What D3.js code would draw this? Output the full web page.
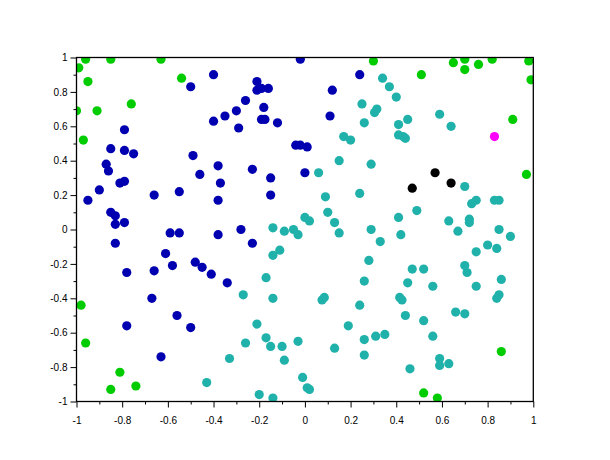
<!DOCTYPE html>
<html><head><meta charset="utf-8">
<script src="https://cdn.jsdelivr.net/npm/d3@7"></script>
<style>body{margin:0;background:#fff}svg{display:block}</style>
</head><body><svg id="c" width="610" height="460"></svg>
<script>
const greenPts = [[-0.99,0.94],[-0.96,0.99],[-0.85,0.99],[-0.63,0.99],[-0.95,0.86],[-0.54,0.88],[-0.76,0.73],[-1.0,0.69],[-0.91,0.69],[-0.97,0.52],[0.30,0.98],[0.51,0.90],[0.65,0.97],[0.70,0.99],[0.70,0.93],[0.76,0.96],[0.82,0.99],[0.98,0.98],[0.99,0.87],[0.91,0.64],[0.97,0.32],[-0.98,-0.44],[-0.96,-0.66],[-0.81,-0.83],[-0.85,-0.93],[-0.74,-0.91],[0.86,-0.71],[0.52,-0.95],[0.58,-0.98]];
const magentaPts = [[0.83,0.54]];
const blackPts = [[0.47,0.24],[0.57,0.33],[0.64,0.27]];
const bluePts = [[-0.50,0.83],[-0.79,0.58],[-0.85,0.47],[-0.79,0.46],[-0.75,0.44],[-0.87,0.38],[-0.86,0.34],[-0.81,0.27],[-0.79,0.28],[-0.90,0.23],[-0.95,0.17],[-0.66,0.20],[-0.55,0.22],[-0.85,0.10],[-0.83,0.08],[-0.83,0.03],[-0.79,0.04],[-0.59,-0.02],[-0.55,-0.02],[-0.83,-0.08],[-0.61,-0.14],[-0.58,-0.21],[-0.78,-0.25],[-0.66,-0.24],[-0.67,-0.40],[-0.56,-0.50],[-0.78,-0.56],[-0.50,-0.57],[-0.63,-0.74],[-0.02,0.99],[-0.40,0.90],[-0.21,0.86],[-0.21,0.81],[-0.19,0.82],[-0.16,0.82],[-0.26,0.75],[-0.30,0.69],[-0.35,0.66],[-0.40,0.63],[-0.18,0.71],[-0.29,0.59],[-0.19,0.64],[-0.175,0.64],[-0.12,0.62],[-0.49,0.43],[-0.38,0.37],[-0.23,0.35],[-0.04,0.49],[-0.02,0.49],[0.01,0.48],[0.0,0.33],[0.24,0.90],[0.12,0.81],[0.11,0.66],[-0.46,0.32],[-0.15,0.30],[-0.37,0.27],[-0.15,0.20],[-0.38,0.17],[-0.28,0.0],[-0.38,-0.03],[-0.23,-0.08],[-0.48,-0.19],[-0.45,-0.22],[-0.41,-0.26],[-0.34,-0.31]];
const tealPts = [[-0.14,0.01],[-0.09,-0.01],[-0.05,0.0],[-0.03,-0.03],[0.0,0.07],[0.02,0.05],[-0.11,-0.12],[-0.14,-0.15],[-0.17,-0.28],[0.06,0.33],[0.29,0.38],[0.24,0.21],[0.09,0.19],[0.10,0.10],[0.13,0.04],[0.15,-0.02],[0.41,0.07],[0.49,0.11],[0.29,0.0],[0.42,-0.03],[0.33,-0.07],[0.28,-0.18],[0.47,-0.23],[0.52,-0.23],[0.26,-0.30],[0.45,-0.31],[0.70,0.25],[0.73,0.15],[0.75,0.17],[0.83,0.17],[0.85,0.17],[0.63,0.05],[0.72,0.06],[0.72,0.04],[0.67,-0.01],[0.85,0.0],[0.90,-0.04],[0.80,-0.09],[0.84,-0.11],[0.75,-0.13],[0.70,-0.21],[0.71,-0.25],[0.86,-0.29],[0.56,-0.33],[0.75,-0.33],[0.84,-0.40],[0.85,-0.38],[0.66,-0.48],[0.70,-0.49],[0.52,-0.53],[0.56,-0.62],[0.59,-0.75],[0.63,-0.78],[0.59,-0.79],[0.075,-0.41],[0.085,-0.395],[0.24,-0.44],[0.415,-0.395],[0.425,-0.41],[0.44,-0.50],[0.19,-0.56],[0.26,-0.64],[0.31,-0.62],[0.35,-0.61],[0.13,-0.69],[0.26,-0.73],[0.46,-0.81],[-0.01,-0.86],[0.01,-0.92],[0.02,-0.93],[-0.27,-0.38],[-0.14,-0.40],[-0.21,-0.55],[-0.17,-0.63],[-0.26,-0.66],[-0.15,-0.68],[-0.10,-0.68],[-0.03,-0.65],[-0.33,-0.75],[-0.09,-0.76],[-0.43,-0.89],[-0.20,-0.96],[-0.14,-0.98],[0.34,0.88],[0.37,0.83],[0.40,0.77],[0.25,0.73],[0.305,0.68],[0.315,0.70],[0.26,0.62],[0.41,0.61],[0.45,0.64],[0.41,0.55],[0.43,0.54],[0.44,0.53],[0.17,0.54],[0.20,0.52],[0.15,0.40],[0.59,0.67],[0.64,0.60]];
const majorTicks = [-1,-0.8,-0.6,-0.4,-0.2,0,0.2,0.4,0.6,0.8,1];
const tickLabels = ["-1","-0.8","-0.6","-0.4","-0.2","0","0.2","0.4","0.6","0.8","1"];
const minorTicks = [-0.9,-0.7,-0.5,-0.3,-0.1,0.1,0.3,0.5,0.7,0.9];

const L=76.5,R=533.3,T=57.5,B=401.5;
const svg=d3.select("#c");
const x=d3.scaleLinear().domain([-1,1]).range([L,R]);
const y=d3.scaleLinear().domain([-1,1]).range([B,T]);

svg.append("defs").append("clipPath").attr("id","clip")
  .append("rect").attr("x",L).attr("y",T).attr("width",R-L).attr("height",B-T);

const series=[
  {pts:tealPts,color:"#20b2aa"},
  {pts:bluePts,color:"#0000b0"},
  {pts:greenPts,color:"#00cc00"},
  {pts:blackPts,color:"#000000"},
  {pts:magentaPts,color:"#ff00ff"}
];
const plot=svg.append("g").attr("clip-path","url(#clip)");
series.forEach(s=>{
  plot.selectAll(null).data(s.pts).enter().append("circle")
    .attr("cx",d=>x(d[0])).attr("cy",d=>y(d[1])).attr("r",4.6).attr("fill",s.color);
});

const fmt=d=>tickLabels[majorTicks.indexOf(d)];
const font='Helvetica, "Liberation Sans", Arial, sans-serif';
const xa=svg.append("g").attr("transform",`translate(0,${B})`)
  .call(d3.axisBottom(x).tickValues(majorTicks).tickFormat(fmt).tickSize(6).tickPadding(9));
const xm=svg.append("g").attr("transform",`translate(0,${B})`)
  .call(d3.axisBottom(x).tickValues(minorTicks).tickFormat("").tickSize(3));
const ya=svg.append("g").attr("transform",`translate(${L},0)`)
  .call(d3.axisLeft(y).tickValues(majorTicks).tickFormat(fmt).tickSize(6).tickPadding(3));
const ym=svg.append("g").attr("transform",`translate(${L},0)`)
  .call(d3.axisLeft(y).tickValues(minorTicks).tickFormat("").tickSize(3));
[xa,xm,ya,ym].forEach(g=>{
  g.select(".domain").remove();
  g.selectAll("line").attr("stroke","#000");
  g.selectAll("text").attr("font-family",font).attr("font-size",10).attr("fill","#000");
});
svg.append("rect").attr("x",L).attr("y",T).attr("width",R-L).attr("height",B-T)
  .attr("fill","none").attr("stroke","#000").attr("stroke-width",1.3);
</script></body></html>
